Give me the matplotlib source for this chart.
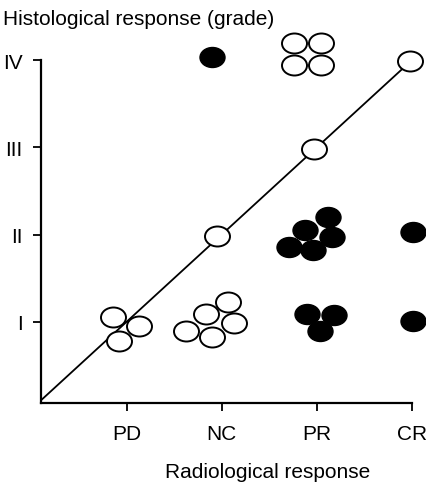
import matplotlib.pyplot as plt
from matplotlib.path import Path
from matplotlib.transforms import Affine2D

plt.rcParams['font.family'] = ['Liberation Sans', 'DejaVu Sans']

# categories
x_labels = ['PD', 'NC', 'PR', 'CR']
y_labels = ['I', 'II', 'III', 'IV']

# open circles (radiological vs histological response)
open_x = [0.86, 1.13, 0.92,
          1.62, 1.84, 2.07, 2.13, 1.90,
          1.95, 2.97, 3.98,
          2.76, 3.04, 2.76, 3.04]
open_y = [1.05, 0.95, 0.78,
          0.90, 1.09, 1.23, 0.99, 0.83,
          1.98, 2.98, 3.99,
          4.20, 4.20, 3.94, 3.94]

# filled circles
filled_x = [1.90,
            3.12, 2.88, 3.16, 2.71, 2.96,
            4.01,
            2.90, 3.18, 3.03,
            4.01]
filled_y = [4.03,
            2.20, 2.05, 1.97, 1.86, 1.82,
            2.03,
            1.09, 1.08, 0.89,
            1.01]

# identity line
line_x = [0.1, 4.0]
line_y = [0.1, 4.0]

ellipse = Path.unit_circle().transformed(Affine2D().scale(1.25, 1.0))

fig = plt.figure(figsize=(4.26, 4.85), dpi=100)
ax = fig.add_axes([0.096, 0.167, 0.871, 0.707])

ax.plot(line_x, line_y, color='black', lw=1.3, zorder=1)
ax.plot(open_x, open_y, ls='none', marker=ellipse, ms=18, mfc='white',
        mec='black', mew=1.4, clip_on=False, zorder=3)
ax.plot(filled_x, filled_y, ls='none', marker=ellipse, ms=18, mfc='black',
        mec='black', mew=1.0, clip_on=False, zorder=3)

ax.set_xlim(0.1, 4.0)
ax.set_ylim(0.07, 4.0)
ax.set_xticks([1, 2, 3, 4])
ax.set_xticklabels(x_labels)
ax.set_yticks([1, 2, 3, 4])
ax.set_yticklabels(y_labels)

for side in ['top', 'right']:
    ax.spines[side].set_visible(False)
for side in ['left', 'bottom']:
    ax.spines[side].set_linewidth(1.6)

ax.tick_params(axis='x', length=6, width=1.3, pad=9, labelsize=15)
ax.tick_params(axis='y', length=6, width=1.3, pad=7, labelsize=15)

fig.text(0.008, 1 - 25 / 485, 'Histological response (grade)', fontsize=15,
         ha='left', va='baseline')
fig.text(268 / 426, 1 - 478 / 485, 'Radiological response', fontsize=15,
         ha='center', va='baseline')

fig.savefig('out.png', dpi=100)
